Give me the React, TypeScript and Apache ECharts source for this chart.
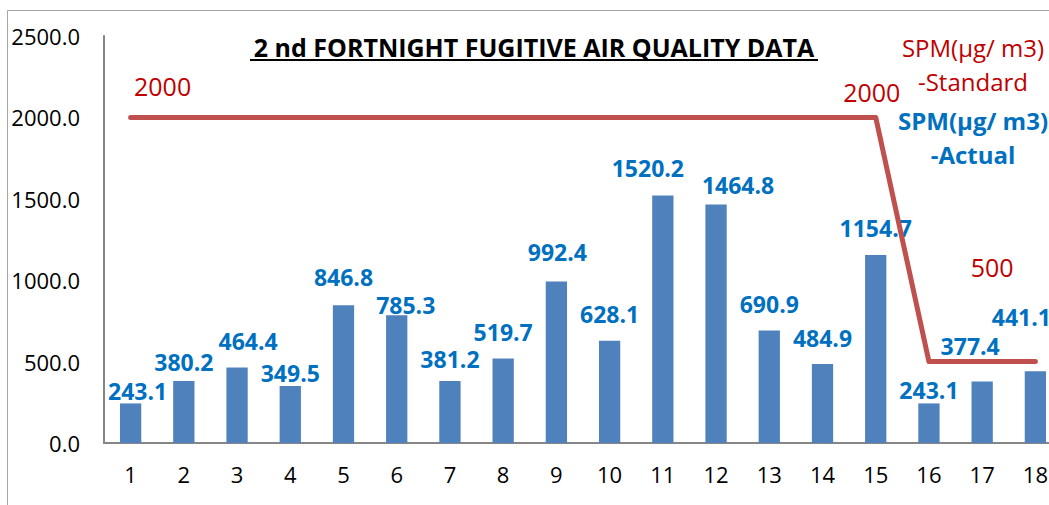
import React, { useEffect, useRef } from "react";
import * as echarts from "echarts";

const categories = ["1","2","3","4","5","6","7","8","9","10","11","12","13","14","15","16","17","18"];
const actualValues = [243.1,380.2,464.4,349.5,846.8,785.3,381.2,519.7,992.4,628.1,1520.2,1464.8,690.9,484.9,1154.7,243.1,377.4,441.1];
const standardValues = [2000,2000,2000,2000,2000,2000,2000,2000,2000,2000,2000,2000,2000,2000,2000,500,500,500];
const yTicks = [0, 500, 1000, 1500, 2000, 2500];
const STD_NAME = "SPM(µg/ m3) -Standard";
const ACT_NAME = "SPM(µg/ m3) -Actual";
const TITLE = "2 nd FORTNIGHT FUGITIVE AIR QUALITY DATA";

// label nudges (style only): [dx, dy]
const barLabelOffsets: [number, number][] = [
  [7,-1],[0,-8],[11,-15],[0,-2],[0,-17],[9,1],[0,-10],[0,-15],[1,-18],[0,-15],
  [-15,-16],[22,-8],[0,-15],[0,-15],[0,-16],[0,-2],[-12,-24],[-14,-43]
];
const lineLabelIdx: Record<number, [number, number]> = { 0: [32,-19], 14: [-4,-13], 16: [10,-82] };

const FONT = '"Open Sans", "Liberation Sans", sans-serif';

export default function App() {
  const ref = useRef<HTMLDivElement>(null);
  useEffect(() => {
    if (!ref.current) return;
    const chart = echarts.init(ref.current, null, { renderer: "svg" });
    chart.setOption({
      animation: false,
      backgroundColor: "#ffffff",
      textStyle: { fontFamily: FONT },
      title: {
        text: TITLE,
        left: 534,
        textAlign: "center",
        top: 34,
        padding: 0,
        textStyle: { fontFamily: FONT, fontWeight: "bold", fontSize: 25, color: "#000" },
      },
      graphic: [
        { type: "rect", shape: { x: 7.5, y: 10.5, width: 1200, height: 700 }, style: { fill: "none", stroke: "#a6a6a6", lineWidth: 1 }, silent: true, z: -10 },
        { type: "line", shape: { x1: 250, y1: 60, x2: 818, y2: 60 }, style: { stroke: "#000", lineWidth: 2 }, silent: true },
      ],
      legend: {
        orient: "vertical",
        left: 877,
        top: 35,
        itemWidth: 0,
        itemHeight: 0,
        itemGap: 15,
        padding: 0,
        data: [STD_NAME, ACT_NAME],
        formatter: (name: string) => {
          const parts = name.split(" -");
          const tok = name === STD_NAME ? "s" : "a";
          return `{${tok}|${parts[0]}}\n{${tok}|-${parts[1]}}`;
        },
        textStyle: {
          rich: {
            s: { width: 180, align: "center", fontSize: 24, lineHeight: 34, color: "#C00000", fontFamily: FONT },
            a: { width: 180, align: "center", fontSize: 24, lineHeight: 34, color: "#0070C0", fontWeight: "bold", fontFamily: FONT },
          },
        },
      },
      grid: { left: 104, right: 0, top: 36, bottom: 62, containLabel: false },
      xAxis: {
        type: "category",
        data: categories,
        axisLine: { lineStyle: { color: "#868686", width: 2 } },
        axisTick: { show: false },
        axisLabel: { color: "#000", fontSize: 22, fontFamily: FONT, margin: 20 },
      },
      yAxis: {
        type: "value",
        min: yTicks[0],
        max: yTicks[yTicks.length - 1],
        interval: 500,
        axisLine: { show: true, lineStyle: { color: "#868686", width: 2 } },
        axisTick: { show: false },
        splitLine: { show: false },
        axisLabel: { color: "#000", fontSize: 22, fontFamily: FONT, margin: 24, formatter: (v: number) => v.toFixed(1) },
      },
      series: [
        {
          name: ACT_NAME,
          type: "bar",
          barWidth: "40%",
          itemStyle: { color: "#4F81BD" },
          data: actualValues.map((v, i) => ({
            value: v,
            label: { offset: barLabelOffsets[i] },
          })),
          label: {
            show: true,
            position: "top",
            distance: 0,
            color: "#0070C0",
            fontWeight: "bold",
            fontSize: 23,
            fontFamily: FONT,
            formatter: (p: any) => Number(p.value).toFixed(1),
          },
          z: 2,
        },
        {
          name: STD_NAME,
          type: "line",
          symbol: "circle",
          symbolSize: 0,
          showSymbol: true,
          lineStyle: { color: "#C0504D", width: 5, cap: "round", join: "round" },
          itemStyle: { color: "#C0504D" },
          data: standardValues.map((v, i) => ({
            value: v,
            label: lineLabelIdx[i]
              ? { show: true, offset: lineLabelIdx[i] }
              : { show: false },
          })),
          label: {
            show: false,
            position: "top",
            distance: 0,
            color: "#C00000",
            fontSize: 25,
            fontFamily: FONT,
          },
          z: 3,
        },
      ],
    });
    return () => chart.dispose();
  }, []);
  return (
    <div style={{ position: "absolute", left: 0, top: 0, width: 1049, height: 505, overflow: "hidden" }}>
      <div ref={ref} style={{ width: 1062, height: 505 }} />
    </div>
  );
}
